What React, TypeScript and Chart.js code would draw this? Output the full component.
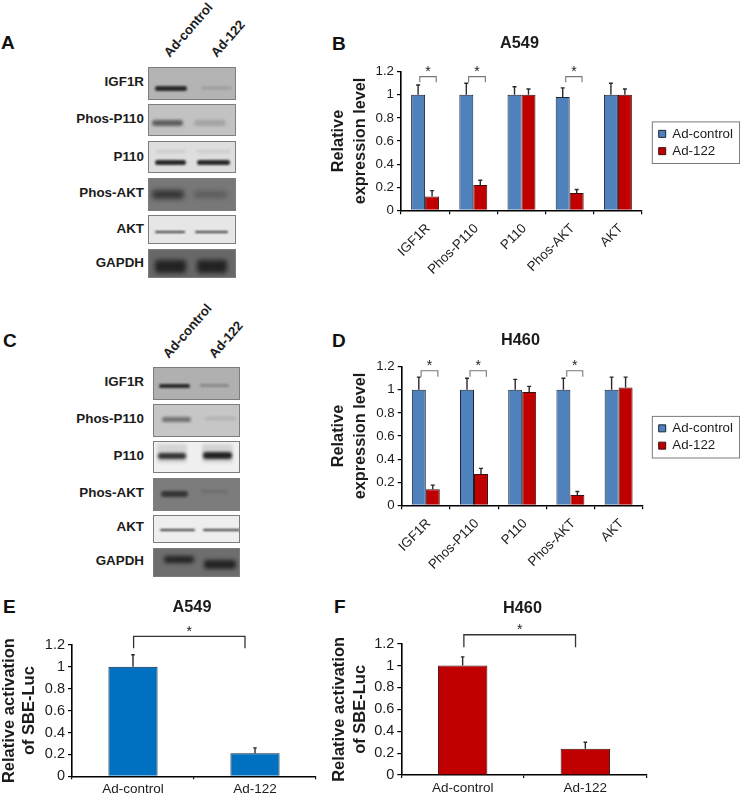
import React, { useEffect, useRef } from "react";
import { Chart, registerables } from "chart.js";

Chart.register(...registerables);

const FONT = '"Liberation Sans", Arial, sans-serif';
const INK = "#1c1c1c";

// ---------- data ----------
const genes = ["IGF1R", "Phos-P110", "P110", "Phos-AKT", "AKT"];
const seriesNames = ["Ad-control", "Ad-122"];

const a549Control = [1, 1, 1, 0.98, 1];
const a549Ad122 = [0.12, 0.22, 1, 0.15, 1];
const a549ControlErr = [0.085, 0.1, 0.07, 0.08, 0.1];
const a549Ad122Err = [0.05, 0.04, 0.05, 0.03, 0.05];

const h460Control = [1, 1, 1, 1, 1];
const h460Ad122 = [0.14, 0.27, 0.98, 0.09, 1.02];
const h460ControlErr = [0.11, 0.1, 0.09, 0.1, 0.11];
const h460Ad122Err = [0.035, 0.05, 0.05, 0.03, 0.09];

const sbeCategories = ["Ad-control", "Ad-122"];
const sbeA549 = [1, 0.21];
const sbeA549Err = [0.11, 0.05];
const sbeH460 = [1, 0.24];
const sbeH460Err = [0.08, 0.06];

// Significance brackets: x in category units, y in axis units.
const bracketsB = [
  { from: -0.11, to: 0.23, top: 1.157, foot: 1.108, star: 1.234 },
  { from: 0.903, to: 1.25, top: 1.157, foot: 1.108, star: 1.234 },
  { from: 2.917, to: 3.256, top: 1.157, foot: 1.108, star: 1.234 },
];
const bracketsD = [
  { from: -0.097, to: 0.25, top: 1.165, foot: 1.113, star: 1.243 },
  { from: 0.917, to: 1.256, top: 1.165, foot: 1.113, star: 1.243 },
  { from: 2.924, to: 3.256, top: 1.165, foot: 1.113, star: 1.243 },
];
const bracketsE = [{ from: 0.005, to: 0.918, top: 1.279, foot: 1.17, star: 1.353 }];
const bracketsF = [{ from: 0.01, to: 0.92, top: 1.282, foot: 1.167, star: 1.362 }];

const blotLabels = ["IGF1R", "Phos-P110", "P110", "Phos-AKT", "AKT", "GAPDH"];
const laneNames = ["Ad-control", "Ad-122"];
const blotBgA = ["#b4b4b4", "#c2c2c2", "#dedede", "#787878", "#e6e6e6", "#686868"];
const bandToneA = [["#2a2a2a", "#a2a2a2"], ["#5e5e5e", "#a4a4a4"], ["#2a2a2a", "#2a2a2a"], ["#363636", "#5c5c5c"], ["#3c3c3c", "#3c3c3c"], ["#222", "#222"]];
const blotBgC = ["#b0b0b0", "#c6c6c6", "#f0f0f0", "#7c7c7c", "#eeeeee", "#6e6e6e"];
const bandToneC = [["#2a2a2a", "#888"], ["#707070", "#b0b0b0"], ["#333", "#222"], ["#333", "#6c6c6c"], ["#3c3c3c", "#3c3c3c"], ["#222", "#222"]];

// ---------- blot layout (page pixels) ----------
const geomA = {
  left: 148, width: 88,
  rows: [[67, 33], [104, 32], [141, 32], [178, 33], [215, 29], [249, 29]],
  labelY: [82, 119, 157, 193, 229, 263],
  blur: [1.1, 1.6, 1.1, 2.6, 0.8, 2.6],
  bands: [
    [[6, 18, 32, 5], [52, 18, 31, 4]],
    [[3, 15, 31, 6], [45, 15, 32, 6]],
    [[6, 18, 31, 5], [48, 18, 33, 5]],
    [[3, 11, 32, 9], [45, 12, 33, 7]],
    [[6, 15, 30, 2.2], [46, 15, 33, 2.2]],
    [[6, 10, 31, 13], [48, 10, 30, 13]],
  ],
  ghosts: { 2: [[7, 8, 30, 3, "#cacaca"], [48, 8, 33, 3, "#cacaca"]] } as any,
  heads: [[172, 60], [219, 60]],
};
const geomC = {
  left: 153, width: 87,
  rows: [[367, 33], [404, 33], [441, 32], [478, 33], [515, 28], [548, 29]],
  labelY: [382, 419, 456, 493, 527, 561],
  blur: [1.1, 1.6, 1.6, 1.6, 0.8, 2],
  bands: [
    [[5, 16, 31, 4], [46, 16, 29, 3]],
    [[8, 12, 29, 5], [51, 12, 31, 3]],
    [[4, 11, 28, 6], [49, 10, 29, 7]],
    [[7, 12, 27, 6], [47, 11, 27, 3]],
    [[6, 13, 35, 2.2], [49, 13, 37, 2.2]],
    [[10, 7, 30, 7], [50, 11, 32, 9]],
  ],
  ghosts: { 2: [[3, 2, 30, 19, "#d4d4d4"], [48, 2, 31, 19, "#d4d4d4"]] } as any,
  heads: [[171, 361], [217, 361]],
};

const panelLetters = [
  ["A", 1, 33], ["B", 332, 34], ["C", 3, 331], ["D", 332, 331], ["E", 3, 597], ["F", 334, 597],
];

// ---------- plugins ----------
function errorBars(errs: number[][], cap: number) {
  return {
    id: "errorBars",
    afterDatasetsDraw(chart: any) {
      const { ctx, scales } = chart;
      ctx.save();
      ctx.strokeStyle = "#2a2a2a";
      ctx.lineWidth = 1.4;
      errs.forEach((list, di) => {
        const meta = chart.getDatasetMeta(di);
        list.forEach((e, i) => {
          const bar = meta.data[i];
          const v = chart.data.datasets[di].data[i] as number;
          const y = scales.y.getPixelForValue(v + e);
          ctx.beginPath();
          ctx.moveTo(bar.x, bar.y);
          ctx.lineTo(bar.x, y);
          ctx.moveTo(bar.x - cap, y);
          ctx.lineTo(bar.x + cap, y);
          ctx.stroke();
        });
      });
      ctx.restore();
    },
  };
}

function brackets(list: any[], color: string, width: number, starSize: number) {
  return {
    id: "brackets",
    afterDraw(chart: any) {
      const { ctx, scales } = chart;
      ctx.save();
      ctx.strokeStyle = color;
      ctx.lineWidth = width;
      ctx.fillStyle = INK;
      ctx.textAlign = "center";
      ctx.textBaseline = "alphabetic";
      ctx.font = `${starSize}px ${FONT}`;
      list.forEach((b) => {
        const x0 = scales.x.getPixelForValue(b.from);
        const x1 = scales.x.getPixelForValue(b.to);
        const yt = scales.y.getPixelForValue(b.top);
        const yf = scales.y.getPixelForValue(b.foot);
        ctx.beginPath();
        ctx.moveTo(x0, yf);
        ctx.lineTo(x0, yt);
        ctx.lineTo(x1, yt);
        ctx.lineTo(x1, yf);
        ctx.stroke();
        ctx.fillText("*", (x0 + x1) / 2, scales.y.getPixelForValue(b.star) + starSize * 0.59);
      });
      ctx.restore();
    },
  };
}

const LEGEND_WIDTH = 85.3;
const legendFrame = {
  id: "legendFrame",
  beforeLayout(chart: any) {
    const lg = chart.legend;
    if (lg && !lg.__sized && chart.options.plugins.legend.display) {
      const fit = lg.fit;
      lg.fit = function () {
        fit.call(this);
        this.width = LEGEND_WIDTH;
      };
      lg.__sized = true;
    }
  },
  afterDraw(chart: any) {
    const boxes = chart.legend?.legendHitBoxes;
    if (!chart.options.plugins.legend.display || !boxes?.length) return;
    const l = Math.min(...boxes.map((b: any) => b.left));
    const t = Math.min(...boxes.map((b: any) => b.top));
    const r = Math.max(...boxes.map((b: any) => b.left + b.width));
    const bt = Math.max(...boxes.map((b: any) => b.top + b.height));
    const { ctx } = chart;
    ctx.save();
    ctx.strokeStyle = "#7a7a7a";
    ctx.lineWidth = 1;
    ctx.strokeRect(l - 6.4, t - 5.3, r - l + 13, bt - t + 11);
    ctx.restore();
  },
};

// ---------- chart factory ----------
function buildChart(canvas: HTMLCanvasElement, p: any) {
  const scales: any = {
    x: {
      grid: { display: true, drawOnChartArea: false, color: "#000", lineWidth: 1.2, tickLength: p.xTick, offset: true },
      border: { display: true, color: "#000", width: 1.6 },
      ticks: {
        color: INK,
        font: { family: FONT, size: p.xFont },
        padding: p.xPad,
        labelOffset: p.xShift,
        autoSkip: false,
        minRotation: p.rotate,
        maxRotation: p.rotate,
      },
      afterFit: (s: any) => { s.height = p.xHeight; },
    },
    y: {
      min: 0,
      max: 1.2,
      grid: { display: true, drawOnChartArea: false, color: "#000", lineWidth: 1.2, tickLength: 4 },
      border: { display: true, color: "#000", width: 1.6 },
      ticks: {
        stepSize: 0.2,
        color: INK,
        padding: 3,
        font: { family: FONT, size: p.yFont },
        callback: (v: any) => String(+Number(v).toFixed(1)),
      },
      title: {
        display: true,
        text: p.yTitle,
        color: INK,
        padding: { top: p.yTitlePad, bottom: 0 },
        font: { family: FONT, size: p.yTitleSize, weight: "bold", lineHeight: p.yTitleLine },
      },
      afterFit: (s: any) => { s.width = p.yWidth; },
    },
    gap: {
      axis: "y",
      position: "right",
      display: true,
      grid: { display: false },
      border: { display: false },
      ticks: { display: false },
      afterFit: (s: any) => { s.width = p.gap; },
    },
  };
  return new Chart(canvas, {
    type: "bar",
    data: { labels: p.labels, datasets: p.datasets },
    options: {
      animation: false,
      responsive: false,
      layout: { padding: 0 },
      datasets: { bar: { barPercentage: 1, categoryPercentage: p.catPct } },
      plugins: {
        tooltip: { enabled: false },
        title: {
          display: true,
          text: p.title,
          color: INK,
          padding: { top: p.titleTop, bottom: p.titleBottom },
          font: { family: FONT, size: 16.3, weight: "bold", lineHeight: 1.2 },
        },
        legend: {
          display: !!p.legend,
          position: "right",
          labels: {
            boxWidth: 7,
            boxHeight: 7,
            padding: 4,
            color: INK,
            font: { family: FONT, size: 13.3 },
          },
        },
      },
      scales,
    },
    plugins: [errorBars(p.errs, p.cap), brackets(p.brackets, p.bracketColor, p.bracketWidth, p.starSize), legendFrame],
  } as any);
}

const pair = (a: number[], b: number[]) => [
  { label: seriesNames[0], data: a, backgroundColor: "#4F81BD", borderColor: "#1a2230", borderWidth: 1 },
  { label: seriesNames[1], data: b, backgroundColor: "#C00000", borderColor: "#3a1010", borderWidth: 1 },
];

const panels: any[] = [
  {
    box: [299, 10, 441, 265], title: "A549", titleTop: 24, titleBottom: 18.14,
    labels: genes, datasets: pair(a549Control, a549Ad122), errs: [a549ControlErr, a549Ad122Err],
    brackets: bracketsB, bracketColor: "#777", bracketWidth: 1.1, starSize: 14, cap: 2,
    yTitle: ["Relative", "expression level"], yTitleSize: 16.3, yTitleLine: 1.3, yTitlePad: 29.4,
    yWidth: 102, xHeight: 64.7, xTick: 4, xPad: 6.5, xShift: 3, xFont: 13.3, yFont: 13.3, rotate: 45,
    catPct: 0.58, gap: 12.7, legend: true,
  },
  {
    box: [301, 304, 439, 266], title: "H460", titleTop: 27.2, titleBottom: 15.94,
    labels: genes, datasets: pair(h460Control, h460Ad122), errs: [h460ControlErr, h460Ad122Err],
    brackets: bracketsD, bracketColor: "#777", bracketWidth: 1.1, starSize: 14, cap: 2,
    yTitle: ["Relative", "expression level"], yTitleSize: 16.3, yTitleLine: 1.3, yTitlePad: 27.4,
    yWidth: 100.7, xHeight: 64.7, xTick: 4, xPad: 6.5, xShift: 3, xFont: 13.3, yFont: 13.3, rotate: 45,
    catPct: 0.58, gap: 12, legend: true,
  },
  {
    box: [0, 590, 384, 204], title: "A549", titleTop: 8.2, titleBottom: 27.2,
    labels: sbeCategories,
    datasets: [{ label: "A549", data: sbeA549, backgroundColor: "#0070C0", borderColor: "#0d2438", borderWidth: 1 }],
    errs: [sbeA549Err], brackets: bracketsE, bracketColor: "#333", bracketWidth: 1.3, starSize: 14, cap: 1.8,
    yTitle: ["Relative activation", "of SBE-Luc"], yTitleSize: 16.5, yTitleLine: 1.24, yTitlePad: -0.75,
    yWidth: 72, xHeight: 17.7, xTick: 3, xPad: 2, xShift: 0, xFont: 13.5, yFont: 14.5, rotate: 0,
    catPct: 0.403, gap: 68, legend: false,
  },
  {
    box: [322, 590, 401, 204], title: "H460", titleTop: 8.5, titleBottom: 25.64,
    labels: sbeCategories,
    datasets: [{ label: "H460", data: sbeH460, backgroundColor: "#C00000", borderColor: "#3a1010", borderWidth: 1 }],
    errs: [sbeH460Err], brackets: bracketsF, bracketColor: "#333", bracketWidth: 1.3, starSize: 14, cap: 1.8,
    yTitle: ["Relative activation", "of SBE-Luc"], yTitleSize: 16.5, yTitleLine: 1.27, yTitlePad: 6.8,
    yWidth: 79.3, xHeight: 19, xTick: 3, xPad: 2, xShift: 0, xFont: 13.5, yFont: 14.5, rotate: 0,
    catPct: 0.403, gap: 76.3, legend: false,
  },
];

// ---------- components ----------
function Panel({ p }: { p: any }) {
  const ref = useRef<HTMLCanvasElement>(null);
  useEffect(() => {
    const chart = buildChart(ref.current as HTMLCanvasElement, p);
    return () => chart.destroy();
  }, [p]);
  const [left, top, w, h] = p.box;
  return <canvas ref={ref} width={w} height={h} style={{ position: "absolute", left, top, width: w, height: h }} />;
}

function Blot({ g, bg, tones }: { g: any; bg: string[]; tones: string[][] }) {
  return (
    <>
      {laneNames.map((n, i) => (
        <div
          key={n}
          style={{
            position: "absolute",
            left: g.heads[i][0],
            top: g.heads[i][1],
            font: `bold 13.2px ${FONT}`,
            color: INK,
            whiteSpace: "nowrap",
            transformOrigin: "0 0",
            transform: "rotate(-49deg) translateY(-100%)",
          }}
        >
          {n}
        </div>
      ))}
      {blotLabels.map((name, r) => (
        <React.Fragment key={name}>
          <div
            style={{
              position: "absolute",
              right: 740 - 144,
              top: g.labelY[r] - 9,
              font: `bold 13.4px/18px ${FONT}`,
              color: INK,
              whiteSpace: "nowrap",
            }}
          >
            {name}
          </div>
          <div
            style={{
              position: "absolute",
              left: g.left,
              top: g.rows[r][0],
              width: g.width,
              height: g.rows[r][1],
              background: bg[r],
              boxSizing: "border-box",
              border: "1px solid #7d7d7d",
              overflow: "hidden",
            }}
          >
            {(g.ghosts[r] || []).map((b: any[], k: number) => (
              <div
                key={"g" + k}
                style={{
                  position: "absolute",
                  left: b[0],
                  top: b[1],
                  width: b[2],
                  height: b[3],
                  borderRadius: 3,
                  background: b[4],
                  filter: "blur(1.6px)",
                }}
              />
            ))}
            {g.bands[r].map((b: number[], k: number) => (
              <div
                key={k}
                style={{
                  position: "absolute",
                  left: b[0],
                  top: b[1],
                  width: b[2],
                  height: b[3],
                  borderRadius: 3,
                  background: tones[r][k],
                  filter: `blur(${g.blur[r]}px)`,
                }}
              />
            ))}
          </div>
        </React.Fragment>
      ))}
    </>
  );
}

export default function App() {
  return (
    <div style={{ position: "absolute", left: 0, top: 0, width: 740, height: 794, background: "#fff", overflow: "hidden" }}>
      {panelLetters.map(([t, x, y]) => (
        <div
          key={t as string}
          style={{ position: "absolute", left: x as number, top: y as number, font: `bold 19px/20px ${FONT}`, color: "#111" }}
        >
          {t}
        </div>
      ))}
      <Blot g={geomA} bg={blotBgA} tones={bandToneA} />
      <Blot g={geomC} bg={blotBgC} tones={bandToneC} />
      {panels.map((p, i) => (
        <Panel key={i} p={p} />
      ))}
    </div>
  );
}
